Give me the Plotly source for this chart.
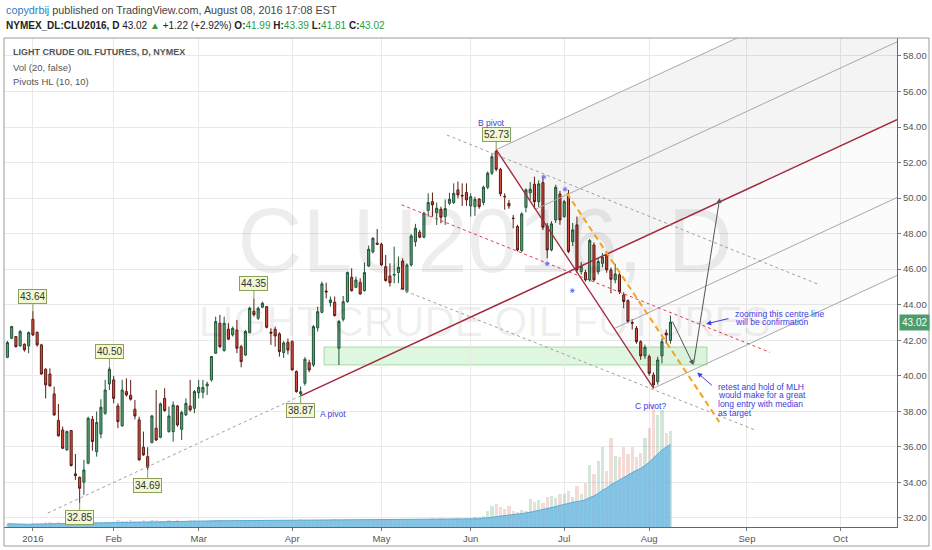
import plotly.graph_objects as go
import pandas as pd

# ---------------- data ----------------
HOLIDAYS = ["2015-12-25", "2016-01-01", "2016-01-18", "2016-02-15",
            "2016-03-25", "2016-05-30", "2016-07-04"]
trading_days = [d for d in pd.bdate_range("2015-12-23", "2016-10-31")
                if d.strftime("%Y-%m-%d") not in HOLIDAYS]
OFFSET = 6  # Jan 4 2016 is bar 0

opens = [
    41.04, 42.11, 42.21, 41.68, 41.77, 41.68,
    43.18, 42.45, 41.74, 40.37, 40.10, 38.98, 37.48, 36.95, 35.83, 36.92,
    34.48, 34.29, 34.01, 35.08, 37.55, 35.73, 36.73, 37.89, 39.54,
    39.77, 38.30, 37.18, 39.11, 38.90, 38.12, 37.52, 35.98, 35.45, 36.24,
    37.05, 36.54, 38.73, 36.86, 36.86, 38.30, 36.99, 37.80, 38.30, 38.17,
    39.05, 39.07, 39.43, 39.77, 41.27, 42.96, 41.42, 42.62, 42.30, 42.58,
    41.64, 41.17, 42.43, 43.63, 43.24, 43.86, 43.89, 42.45, 42.62, 42.36,
    41.30, 41.88, 41.92, 40.24, 38.98, 39.58, 40.74, 40.61, 42.70, 43.57,
    44.77, 44.12, 44.14, 41.55, 43.18, 44.17, 45.54, 44.98, 45.26, 44.79,
    46.18, 46.97, 47.46, 47.40, 46.14, 45.62, 45.66, 45.81, 46.46, 44.74,
    46.24, 47.55, 48.08, 47.80, 49.30, 49.80, 49.18, 49.37, 48.96, 49.71,
    49.75, 50.46, 50.15, 50.31, 49.56, 49.52, 49.95, 49.75, 50.61, 51.40,
    52.62, 51.62, 50.10, 49.71, 48.87, 48.40, 47.05, 49.48, 50.30, 50.78,
    49.80, 50.87, 48.43, 47.08, 48.77, 50.23, 48.96, 50.12, 47.55, 48.49,
    45.86, 45.81, 45.40, 47.36, 45.86, 46.33, 46.80, 45.96, 45.40, 45.68,
    44.55, 44.23, 43.00, 42.67, 41.92, 41.12, 41.08, 40.05, 39.67, 41.12,
    42.40, 41.99]
highs = [
    41.96, 42.81, 42.24, 42.58, 41.83, 42.49,
    43.64, 42.49, 41.80, 40.42, 40.42, 39.39, 38.42, 37.14, 36.92, 36.95,
    35.60, 34.33, 35.27, 37.70, 37.74, 37.99, 38.68, 39.77, 40.50,
    39.99, 38.45, 39.77, 39.86, 39.77, 38.64, 37.70, 36.86, 35.98, 37.80,
    39.20, 38.49, 39.30, 38.27, 38.55, 38.36, 38.04, 38.73, 39.77, 39.20,
    39.77, 39.77, 39.67, 41.12, 43.33, 43.43, 43.33, 42.96, 42.77, 43.14,
    41.74, 42.58, 43.89, 44.35, 43.89, 44.17, 43.93, 42.67, 42.77, 42.45,
    41.95, 42.10, 42.00, 40.30, 39.40, 41.05, 40.90, 42.85, 43.89, 45.30,
    45.24, 44.46, 44.46, 43.14, 44.49, 45.86, 46.05, 45.58, 45.49, 46.37,
    47.33, 47.80, 48.26, 47.50, 46.80, 46.33, 47.27, 46.71, 46.61, 46.33,
    47.98, 48.55, 48.21, 49.24, 50.27, 50.31, 49.75, 49.52, 49.93, 50.30,
    50.83, 50.93, 50.83, 50.83, 50.27, 50.08, 50.00, 50.70, 51.50, 52.50,
    52.73, 51.70, 50.27, 49.90, 49.05, 48.50, 49.20, 50.55, 50.90, 51.20,
    51.00, 51.21, 48.60, 48.70, 50.75, 50.40, 49.90, 50.46, 48.60, 48.96,
    46.40, 45.95, 47.70, 47.50, 46.60, 46.90, 47.00, 46.10, 46.30, 45.80,
    44.70, 44.30, 43.20, 42.80, 42.00, 41.75, 41.20, 40.20, 41.08, 42.11,
    42.60, 43.39]
lows = [
    40.99, 42.06, 41.59, 41.64, 41.36, 41.27,
    42.24, 41.64, 40.05, 38.73, 39.39, 37.74, 36.58, 35.87, 35.79, 34.89,
    34.14, 32.85, 33.30, 35.02, 35.79, 35.45, 36.48, 37.80, 39.20,
    38.45, 37.05, 37.14, 38.83, 38.60, 37.55, 35.21, 35.49, 34.69, 36.20,
    36.33, 36.48, 37.98, 36.80, 36.30, 37.14, 36.39, 37.74, 37.98, 37.89,
    38.73, 38.73, 38.92, 39.67, 41.23, 41.55, 41.36, 42.02, 42.21, 41.27,
    40.48, 41.12, 42.39, 43.33, 43.14, 43.80, 42.67, 41.74, 41.64, 41.08,
    41.00, 41.20, 40.30, 39.05, 38.87, 39.45, 40.20, 40.50, 42.49, 43.52,
    44.36, 43.89, 43.33, 40.61, 43.05, 44.12, 44.74, 44.93, 44.55, 44.74,
    46.14, 46.89, 47.36, 46.18, 45.30, 45.02, 45.21, 45.21, 44.83, 44.65,
    46.15, 47.27, 47.74, 47.74, 48.96, 48.96, 48.49, 48.58, 48.49, 49.60,
    49.67, 49.99, 49.56, 49.56, 48.96, 49.00, 49.40, 49.60, 50.50, 51.30,
    51.50, 50.10, 49.35, 49.40, 48.30, 47.00, 46.95, 49.20, 49.90, 49.40,
    49.50, 48.20, 46.61, 47.00, 48.60, 48.50, 48.90, 46.90, 47.30, 45.80,
    45.70, 45.30, 45.30, 45.30, 45.70, 46.10, 45.80, 44.64, 45.20, 44.60,
    43.80, 42.95, 42.60, 41.80, 40.90, 40.95, 40.00, 39.30, 39.50, 40.70,
    41.80, 41.81]
closes = [
    41.87, 42.77, 41.64, 42.49, 41.46, 42.43,
    42.30, 41.74, 40.10, 39.49, 39.43, 37.80, 36.62, 35.92, 36.86, 34.95,
    34.38, 33.67, 34.70, 37.61, 36.30, 37.37, 38.23, 39.20, 40.37,
    38.73, 37.42, 39.20, 38.92, 38.68, 37.74, 35.27, 35.55, 34.85, 37.74,
    36.39, 38.42, 38.04, 37.74, 38.35, 37.23, 37.93, 38.45, 38.08, 39.11,
    39.35, 39.35, 39.54, 41.08, 43.05, 41.64, 42.96, 42.06, 42.67, 41.55,
    40.80, 42.49, 43.80, 43.44, 43.80, 44.08, 42.73, 42.40, 42.24, 41.36,
    41.85, 41.45, 40.33, 39.11, 39.10, 40.93, 40.33, 42.77, 43.61, 45.17,
    44.72, 44.27, 43.39, 43.05, 44.17, 45.81, 44.79, 45.39, 44.61, 45.81,
    47.12, 47.74, 47.40, 46.24, 45.36, 45.24, 45.70, 46.11, 44.87, 46.24,
    47.87, 48.30, 47.80, 49.15, 49.75, 49.62, 49.43, 48.92, 49.41, 49.93,
    50.27, 50.18, 50.12, 49.90, 50.08, 49.93, 49.52, 50.61, 51.40, 52.33,
    51.62, 50.24, 50.08, 49.56, 48.85, 47.08, 49.11, 50.46, 50.50, 49.80,
    50.80, 48.36, 47.08, 48.55, 50.61, 48.77, 49.80, 47.00, 48.21, 45.96,
    46.15, 45.40, 47.61, 45.40, 46.43, 46.67, 45.96, 45.43, 45.73, 44.74,
    44.18, 43.05, 42.96, 41.92, 41.12, 41.60, 40.14, 39.49, 40.89, 41.92,
    42.30, 43.02]
volume_k = [
    8, 7, 6, 7, 6, 5,
    9, 10, 9, 11, 12, 10, 11, 9, 10, 9, 12, 13, 11, 10, 12, 11, 10, 13, 12,
    13, 16, 15, 14, 17, 15, 14, 16, 15, 18, 17, 15, 14, 16, 13, 16, 15, 14, 16, 17,
    14, 15, 13, 16, 17, 16, 15, 14, 16, 13, 15, 16, 15, 14, 17, 15, 13, 14, 16, 15, 16, 17,
    16, 17, 19, 16, 18, 15, 16, 17, 16, 16, 19, 17, 16, 18, 16, 15, 17, 16, 18, 16, 17,
    17, 18, 20, 17, 16, 19, 20, 18, 17, 20, 19, 18, 21, 20, 22, 19, 18, 23, 21, 20, 22,
    22, 25, 24, 28, 40, 52, 56, 48, 45, 50, 38, 36, 42, 40, 69, 60, 65, 58, 72, 76, 70, 80,
    80, 88, 72, 100, 80, 108, 150, 128, 160, 195, 136, 216, 172, 170, 195, 178, 195, 171, 181, 216,
    241, 297, 272, 284, 230, 234]

y_ticks = [32, 34, 36, 38, 40, 42, 44, 46, 48, 50, 52, 54, 56, 58]
month_labels = ["2016", "Feb", "Mar", "Apr", "May", "Jun", "Jul", "Aug", "Sep", "Oct"]
pivot_highs = [(0, 43.64), (18, 40.50), (52, 44.35), (109, 52.73)]
pivot_lows = [(11, 32.85), (27, 34.69), (63, 38.87)]
last_close = 43.02

assert len(opens) == len(highs) == len(lows) == len(closes) == len(volume_k)

bar_x = [i - OFFSET for i in range(len(opens))]
tick_vals = []
for m in range(1, 11):
    first = next(i for i, d in enumerate(trading_days) if d.year == 2016 and d.month == m)
    tick_vals.append(first - OFFSET)

vol_ma = pd.Series(volume_k).rolling(20, min_periods=1).mean().tolist()

# ---------------- geometry helpers ----------------
W, H = 932, 550
PL, PR, PT, PB = 4, 897, 38, 527
X0, X1 = -6.8, 203.3
Y0, Y1 = 31.49, 59.01


def xp(px):  # pixel -> paper x
    return (px - PL) / (PR - PL)


def yp(py):  # pixel -> paper y
    return (PB - py) / (PB - PT)


fig = go.Figure()

# watermark (behind everything)
fig.add_trace(go.Scatter(x=[106.4], y=[47.1], mode="text", text=["CLU2016, D"],
                         textfont=dict(size=90, color="rgba(0,0,0,0.07)",
                                       family="Liberation Sans"),
                         hoverinfo="skip", showlegend=False))
fig.add_trace(go.Scatter(x=[106.3], y=[42.85], mode="text", text=["LIGHT CRUDE OIL FUTURES"],
                         textfont=dict(size=42, color="rgba(0,0,0,0.07)",
                                       family="Liberation Sans"),
                         hoverinfo="skip", showlegend=False))

# pitchfork
A = (63, 38.87)
B = (109, 52.73)
C = (146, 39.30)
Mx, My = (B[0] + C[0]) / 2, (B[1] + C[1]) / 2
slope = (My - A[1]) / (Mx - A[0])


def at_edge(p):
    return p[1] + slope * (X1 - p[0])


upper_half = ((B[0] + Mx) / 2, (B[1] + My) / 2)
lower_half = ((Mx + C[0]) / 2, (My + C[1]) / 2)

fig.add_trace(go.Scatter(
    x=[B[0], X1, X1, Mx, B[0]],
    y=[B[1], at_edge(B), at_edge(A), My, B[1]],
    fill="toself", fillcolor="rgba(0,0,0,0.045)", line=dict(width=0),
    mode="lines", hoverinfo="skip", showlegend=False))
fig.add_trace(go.Scatter(
    x=[Mx, X1, X1, C[0], Mx],
    y=[My, at_edge(A), at_edge(C), C[1], My],
    fill="toself", fillcolor="rgba(0,0,0,0.015)", line=dict(width=0),
    mode="lines", hoverinfo="skip", showlegend=False))

# volume
vol_colors = ["rgba(95,170,120,0.28)" if c >= o else "rgba(215,110,100,0.25)"
              for o, c in zip(opens, closes)]
fig.add_trace(go.Bar(x=bar_x, y=volume_k, marker=dict(color=vol_colors, line=dict(width=0)),
                     width=0.75, yaxis="y2", hoverinfo="skip", showlegend=False))
fig.add_trace(go.Scatter(x=bar_x, y=vol_ma, mode="lines", fill="tozeroy",
                         fillcolor="rgba(115,188,228,0.85)",
                         line=dict(color="#5aaad8", width=1),
                         yaxis="y2", hoverinfo="skip", showlegend=False))

# support zone (green rectangle)
fig.add_shape(type="rect", x0=68.5, x1=158.6, y0=40.61, y1=41.62,
              fillcolor="rgba(150,230,150,0.3)", line=dict(color="rgba(120,200,120,0.6)", width=1),
              layer="below")


def seg(x0, y0, x1, y1, color, width=1, dash="solid"):
    fig.add_trace(go.Scatter(x=[x0, x1], y=[y0, y1], mode="lines",
                             line=dict(color=color, width=width, dash=dash),
                             hoverinfo="skip", showlegend=False))


GREY = "#a8a8a8"
# pitchfork tines
seg(B[0], B[1], X1, at_edge(B), GREY)
seg(upper_half[0], upper_half[1], X1, at_edge(upper_half), GREY)
seg(lower_half[0], lower_half[1], X1, at_edge(lower_half), GREY)
seg(C[0], C[1], X1, at_edge(C), GREY)
# median extension backward (dotted)
seg(3.5, A[1] + slope * (3.5 - A[0]), A[0], A[1], "#a0a0a0", 1, "dot")
# median line and B-C line
seg(A[0], A[1], X1, at_edge(A), "#a3283c", 1.5)
seg(B[0], B[1], C[0], C[1], "#a3283c", 1.3)

# parallel channel (dotted grey / red dashed)
seg(97.4, 53.55, 185.2, 45.11, "#a0a0a0", 1, "dot")
seg(86.35, 44.89, 169.9, 36.95, "#a0a0a0", 1, "dot")
seg(86.75, 49.62, 173.4, 41.32, "#e8374f", 1, "3px,3px")

# orange dashed
seg(125.6, 50.29, 161.5, 37.4, "#f5a21b", 2, "6px,4px")

# candles
fig.add_trace(go.Candlestick(
    x=bar_x, open=opens, high=highs, low=lows, close=closes,
    increasing=dict(line=dict(color="#225437", width=1), fillcolor="#5fa57d"),
    decreasing=dict(line=dict(color="#5b1a13", width=1), fillcolor="#d9503f"),
    whiskerwidth=0, hoverinfo="skip", showlegend=False))

# pivot markers (Pivots HL)
fig.add_trace(go.Scatter(x=[120.2, 125.2, 121.0, 126.9], y=[51.19, 50.5, 46.3, 44.79],
                         mode="markers",
                         marker=dict(symbol="asterisk-open", size=4, color="#7070ff",
                                     line=dict(color="#7070ff", width=1)),
                         hoverinfo="skip", showlegend=False))

annotations = []
shapes = []

# last price dotted line and tag
shapes.append(dict(type="line", xref="paper", x0=0, x1=1, yref="y", y0=last_close, y1=last_close,
                   line=dict(color="#3d9970", width=1, dash="dot")))
annotations.append(dict(xref="paper", x=1.002, xanchor="left", yref="y", y=last_close,
                        text="%.2f" % last_close, showarrow=False, bgcolor="#4c9c6c",
                        font=dict(color="white", size=10, family="Liberation Sans"),
                        borderpad=2))

# pivot price tags
tagfont = dict(size=10, color="#333", family="Liberation Sans")
for x, v in pivot_highs:
    annotations.append(dict(x=x, y=v, text="%.2f" % v, showarrow=True, ax=0, ay=-15,
                            arrowhead=0, arrowwidth=1, arrowcolor="#8ca05a",
                            bgcolor="#f2f7d4", bordercolor="#8ca05a", borderwidth=1,
                            borderpad=1, font=tagfont))
for x, v in pivot_lows:
    annotations.append(dict(x=x, y=v, text="%.2f" % v, showarrow=True, ax=0, ay=15,
                            arrowhead=0, arrowwidth=1, arrowcolor="#8ca05a",
                            bgcolor="#f2f7d4", bordercolor="#8ca05a", borderwidth=1,
                            borderpad=1, font=tagfont))

BLUE = "#3c3ce0"
nf = dict(size=8.5, color=BLUE, family="Liberation Sans")
annotations += [
    dict(x=70.7, y=37.84, text="A pivot", showarrow=False, font=nf),
    dict(x=107.8, y=54.23, text="B pivot", showarrow=False, font=nf),
    dict(x=145.2, y=38.30, text="C pivot?", showarrow=False, font=nf),
]
notes = [(164.7, 43.48, "zooming this centre line"), (164.7, 43.01, "will be confirmation"),
         (160.7, 39.39, "retest and hold of MLH"), (160.7, 38.91, "would make for a great"),
         (160.7, 38.42, "long entry with median"), (160.7, 37.93, "as target")]
for x, y, t in notes:
    annotations.append(dict(x=x, y=y, text=t, showarrow=False, xanchor="left", font=nf))

# arrows
annotations += [
    dict(x=158.4, y=42.92, ax=164.0, ay=43.24, axref="x", ayref="y", text="", showarrow=True,
         arrowhead=2, arrowwidth=1, arrowcolor=BLUE),
    dict(x=156.3, y=40.18, ax=160.1, ay=39.39, axref="x", ayref="y", text="", showarrow=True,
         arrowhead=2, arrowwidth=1, arrowcolor=BLUE),
    dict(x=155.4, y=40.61, ax=150.3, ay=43.14, axref="x", ayref="y", text="", showarrow=True,
         arrowhead=2, arrowwidth=1, arrowcolor="#555"),
    dict(x=161.6, y=50.01, ax=155.4, ay=40.61, axref="x", ayref="y", text="", showarrow=True,
         arrowhead=2, arrowwidth=1, arrowcolor="#555"),
]

# legend texts inside chart
lf = dict(size=9.5, color="#555", family="Liberation Sans")
annotations += [
    dict(xref="paper", yref="paper", x=xp(11), y=yp(52), xanchor="left", yanchor="middle",
         text="<b>LIGHT CRUDE OIL FUTURES, D, NYMEX</b>", showarrow=False,
         font=dict(size=9, color="#555", family="Liberation Sans")),
    dict(xref="paper", yref="paper", x=xp(11), y=yp(67), xanchor="left", yanchor="middle",
         text="Vol (20, false)", showarrow=False, font=lf),
    dict(xref="paper", yref="paper", x=xp(11), y=yp(82), xanchor="left", yanchor="middle",
         text="Pivots HL (10, 10)", showarrow=False, font=lf),
]

# header
G = "#2e9a3a"
annotations += [
    dict(xref="paper", yref="paper", x=xp(4), y=yp(10), xanchor="left", yanchor="middle",
         showarrow=False, font=dict(size=10.8, color="#444", family="Liberation Sans"),
         text='<span style="color:#2b7cc2">copydrbij</span> published on TradingView.com, '
              'August 08, 2016 17:08 EST'),
    dict(xref="paper", yref="paper", x=xp(4), y=yp(25), xanchor="left", yanchor="middle",
         showarrow=False, font=dict(size=10, color="#222", family="Liberation Sans"),
         text='<b>NYMEX_DL:CLU2016, D</b> 43.02 <span style="color:%s">▲</span> +1.22 (+2.92%%) '
              '<b>O:</b><span style="color:%s">41.99</span> <b>H:</b><span style="color:%s">43.39</span> '
              '<b>L:</b><span style="color:%s">41.81</span> <b>C:</b><span style="color:%s">43.02</span>'
              % (G, G, G, G, G)),
]

# outer frame
shapes.append(dict(type="rect", xref="paper", yref="paper", x0=xp(4), x1=xp(929),
                   y0=yp(546), y1=yp(38), line=dict(color="#9a9a9a", width=1)))

fig.update_layout(
    width=W, height=H,
    margin=dict(l=PL, r=W - PR, t=PT, b=H - PB),
    paper_bgcolor="white", plot_bgcolor="white",
    showlegend=False, bargap=0,
    xaxis=dict(range=[X0, X1], tickvals=tick_vals, ticktext=month_labels,
               showgrid=True, gridcolor="#e9e9e9", gridwidth=1, zeroline=False,
               ticks="outside", ticklen=3, tickcolor="#777",
               showline=True, linecolor="#666", linewidth=1,
               tickfont=dict(size=9.5, color="#555", family="Liberation Sans"),
               rangeslider=dict(visible=False), fixedrange=True),
    yaxis=dict(range=[Y0, Y1], side="right", tickvals=y_ticks,
               ticktext=["%.2f" % v for v in y_ticks],
               showgrid=True, gridcolor="#e9e9e9", gridwidth=1, zeroline=False,
               ticks="outside", ticklen=3, tickcolor="#777",
               showline=True, linecolor="#666", linewidth=1,
               tickfont=dict(size=9.5, color="#555", family="Liberation Sans")),
    yaxis2=dict(range=[0, 297 * (PB - PT) / 122.0], overlaying="y", visible=False,
                fixedrange=True),
    annotations=annotations, shapes=shapes,
)

fig.write_html("out.html", config={"displayModeBar": False},
               post_script="document.body.style.margin='0px';")
